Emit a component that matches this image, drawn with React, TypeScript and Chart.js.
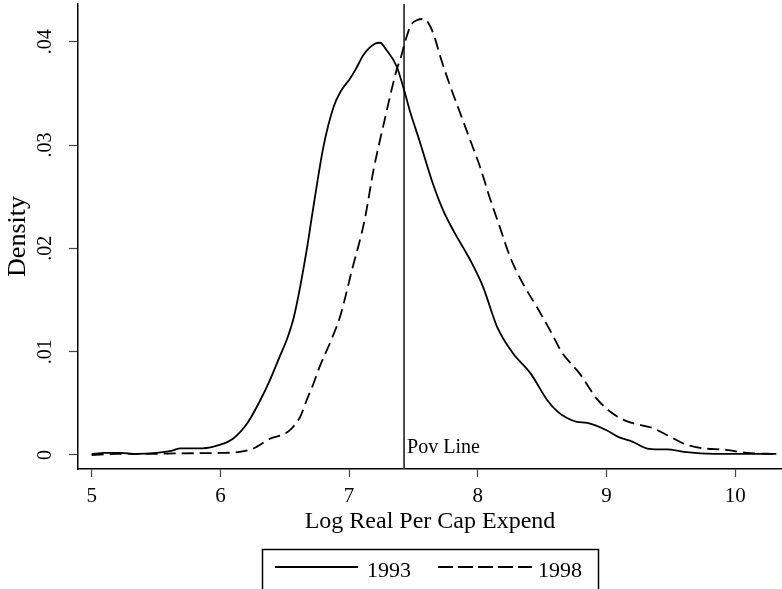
import React, { useEffect, useRef } from 'react';
import { Chart, registerables } from 'chart.js';

Chart.register(...registerables);

const FONT = "'Liberation Serif', 'Times New Roman', serif";

const seriesLabels = ['1993', '1998'];

const x1993 = [5.00, 5.10, 5.22, 5.35, 5.50, 5.62, 5.69, 5.86, 6.00, 6.10, 6.21, 6.31, 6.39, 6.46, 6.52, 6.57, 6.62, 6.67, 6.72, 6.80, 6.88, 6.94, 7.00, 7.05, 7.11, 7.20, 7.24, 7.29, 7.37, 7.43, 7.47, 7.55, 7.65, 7.73, 7.82, 7.89, 7.94, 8.04, 8.15, 8.27, 8.41, 8.54, 8.62, 8.69, 8.77, 8.85, 9.00, 9.10, 9.20, 9.31, 9.41, 9.47, 9.60, 9.73, 9.98, 10.32];
const y1993 = [0.0001, 0.0002, 0.0002, 0.0001, 0.0002, 0.0004, 0.00065, 0.00065, 0.0010, 0.0016, 0.0031, 0.0053, 0.0074, 0.0095, 0.0113, 0.0133, 0.0163, 0.0198, 0.0238, 0.0298, 0.0337, 0.0353, 0.0363, 0.0373, 0.0387, 0.0398, 0.0399, 0.0392, 0.0376, 0.0352, 0.0334, 0.0303, 0.0263, 0.0237, 0.0215, 0.0200, 0.0189, 0.0163, 0.0124, 0.0099, 0.0079, 0.0053, 0.0042, 0.0036, 0.0032, 0.0031, 0.0024, 0.0017, 0.0013, 0.00065, 0.00055, 0.00055, 0.0003, 0.00016, 0.0001, 0.0001];

const x1998 = [5.00, 5.20, 5.43, 5.69, 6.00, 6.15, 6.26, 6.39, 6.47, 6.54, 6.62, 6.67, 6.72, 6.77, 6.86, 6.93, 7.02, 7.12, 7.19, 7.27, 7.37, 7.40, 7.44, 7.48, 7.53, 7.58, 7.63, 7.67, 7.71, 7.78, 7.86, 7.94, 8.02, 8.09, 8.17, 8.25, 8.35, 8.46, 8.56, 8.66, 8.72, 8.79, 8.85, 8.92, 9.00, 9.10, 9.20, 9.36, 9.49, 9.62, 9.75, 9.93, 10.09, 10.32];
const y1998 = [0.0000, 0.0001, 0.0001, 0.00016, 0.0002, 0.0003, 0.00065, 0.0016, 0.0019, 0.0024, 0.0037, 0.0053, 0.0068, 0.0085, 0.0111, 0.0134, 0.0178, 0.0227, 0.0276, 0.0321, 0.0373, 0.0384, 0.0402, 0.0416, 0.0421, 0.0422, 0.0415, 0.0402, 0.0385, 0.0359, 0.0332, 0.0305, 0.0278, 0.0250, 0.0221, 0.0192, 0.0166, 0.0143, 0.0121, 0.0098, 0.0089, 0.0079, 0.0068, 0.0055, 0.0045, 0.0036, 0.0031, 0.0026, 0.0018, 0.0010, 0.00065, 0.0005, 0.0002, 0.0001];

const povLineX = 7.427;
const povLabel = 'Pov Line';

const xTicks = [5, 6, 7, 8, 9, 10];
const xTickLabels = ['5', '6', '7', '8', '9', '10'];
const yTicks = [0, 0.01, 0.02, 0.03, 0.04];
const yTickLabels = ['0', '.01', '.02', '.03', '.04'];

const xTitle = 'Log Real Per Cap Expend';
const yTitle = 'Density';

const X_MIN = 4.8936;
const X_MAX = 10.3636;
const Y_MIN = -0.001355;
const Y_MAX = 0.04365;

const overlayPlugin = {
  id: 'overlay',
  afterDraw(chart: any) {
    const ctx = chart.ctx;
    const xs = chart.scales.x;
    const ys = chart.scales.y;
    ctx.save();
    ctx.fillStyle = '#000';
    ctx.font = `20px ${FONT}`;
    ctx.textAlign = 'center';
    ctx.textBaseline = 'alphabetic';
    yTicks.forEach((v, i) => {
      const py = ys.getPixelForValue(v);
      ctx.save();
      ctx.translate(51, py);
      ctx.rotate(-Math.PI / 2);
      ctx.fillText(yTickLabels[i], 0, 0);
      ctx.restore();
    });
    ctx.font = `20px ${FONT}`;
    ctx.textAlign = 'left';
    ctx.fillText(povLabel, xs.getPixelForValue(povLineX) + 3, ys.getPixelForValue(0) - 2);
    const ds = chart.data.datasets;
    ctx.strokeStyle = '#000';
    ctx.lineWidth = 1.5;
    ctx.setLineDash([]);
    ctx.strokeRect(262.5, 549.5, 336, 60);
    const ly = 567;
    ctx.lineWidth = ds[0].borderWidth;
    ctx.beginPath();
    ctx.moveTo(275, ly);
    ctx.lineTo(358, ly);
    ctx.stroke();
    ctx.font = `22px ${FONT}`;
    ctx.fillText(ds[0].label, 367, 577);
    ctx.lineWidth = ds[1].borderWidth;
    ctx.setLineDash([15, 5]);
    ctx.beginPath();
    ctx.moveTo(438, ly);
    ctx.lineTo(532, ly);
    ctx.stroke();
    ctx.setLineDash([]);
    ctx.fillText(ds[1].label, 538, 577);
    ctx.restore();
  },
};

export default function App() {
  const ref = useRef<HTMLCanvasElement | null>(null);
  useEffect(() => {
    document.body.style.margin = '0';
    const canvas = ref.current;
    if (!canvas) return;
    const chart = new Chart(canvas, {
      type: 'line',
      data: {
        datasets: [
          {
            label: seriesLabels[0],
            data: x1993.map((x, i) => ({ x, y: y1993[i] })),
            borderColor: '#000',
            borderWidth: 1.8,
            pointRadius: 0,
            cubicInterpolationMode: 'monotone',
            fill: false,
          },
          {
            label: seriesLabels[1],
            data: x1998.map((x, i) => ({ x, y: y1998[i] })),
            borderColor: '#000',
            borderWidth: 1.8,
            borderDash: [12, 6],
            pointRadius: 0,
            cubicInterpolationMode: 'monotone',
            fill: false,
          },
          {
            label: 'pov',
            data: [
              { x: povLineX, y: Y_MIN },
              { x: povLineX, y: Y_MAX },
            ],
            borderColor: '#3a3a3a',
            borderWidth: 1.8,
            pointRadius: 0,
            tension: 0,
            fill: false,
          },
        ],
      },
      options: {
        responsive: false,
        animation: false,
        devicePixelRatio: 1,
        layout: { padding: { top: 4, left: 0, right: 0, bottom: 0 } },
        plugins: { legend: { display: false }, tooltip: { enabled: false } },
        events: [],
        scales: {
          x: {
            type: 'linear',
            min: X_MIN,
            max: X_MAX,
            afterBuildTicks: (s: any) => {
              s.ticks = xTicks.map((v) => ({ value: v }));
            },
            afterFit: (s: any) => {
              s.height = 120;
            },
            ticks: {
              callback: (v: any) => {
                const i = xTicks.indexOf(Number(v));
                return i >= 0 ? xTickLabels[i] : '';
              },
              font: { family: FONT, size: 21 },
              color: '#000',
              padding: 7,
              maxRotation: 0,
              autoSkip: false,
            },
            grid: { drawOnChartArea: false, drawTicks: true, tickLength: 8, tickColor: '#444', tickWidth: 1.2 },
            border: { display: true, color: '#000', width: 1.5 },
            title: {
              display: true,
              text: xTitle,
              color: '#000',
              font: { family: FONT, size: 24, lineHeight: 1.2 },
              padding: { top: 0, bottom: 53 },
            },
          },
          y: {
            type: 'linear',
            min: Y_MIN,
            max: Y_MAX,
            afterBuildTicks: (s: any) => {
              s.ticks = yTicks.map((v) => ({ value: v }));
            },
            afterFit: (s: any) => {
              s.width = 78;
            },
            ticks: { display: false },
            grid: { drawOnChartArea: false, drawTicks: true, tickLength: 9, tickColor: '#444', tickWidth: 1.2 },
            border: { display: true, color: '#000', width: 1.5 },
            title: {
              display: true,
              text: yTitle,
              color: '#000',
              font: { family: FONT, size: 26, lineHeight: 1 },
              padding: { top: 5, bottom: 0 },
            },
          },
        },
      } as any,
      plugins: [overlayPlugin],
    });
    return () => chart.destroy();
  }, []);
  return (
    <div style={{ position: 'absolute', left: 0, top: 0, width: 782, height: 589, background: '#fff' }}>
      <canvas ref={ref} width={782} height={589} style={{ display: 'block' }} />
    </div>
  );
}
